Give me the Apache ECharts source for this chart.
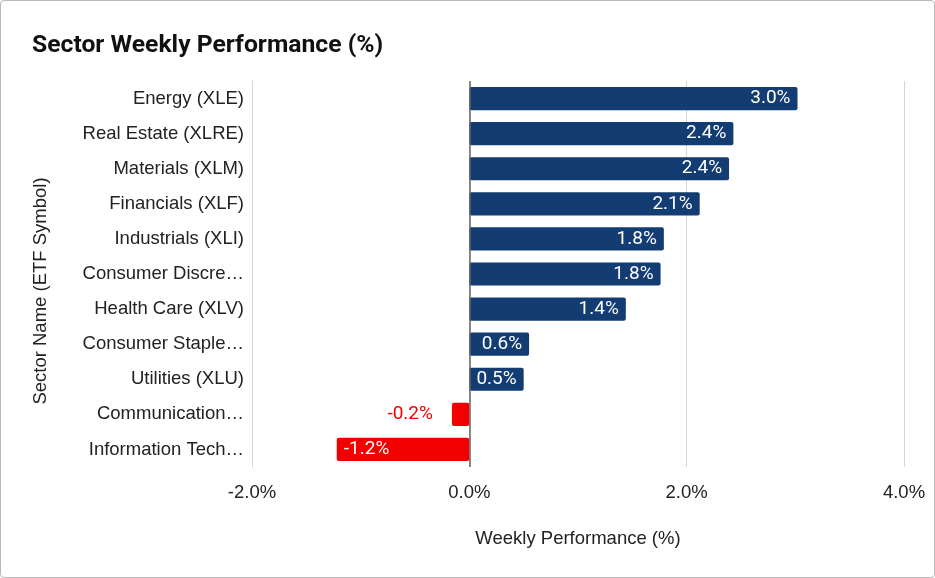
<!DOCTYPE html>
<html><head><meta charset="utf-8">
<script src="https://cdn.jsdelivr.net/npm/echarts@6/dist/echarts.min.js"></script>
<style>
html,body{margin:0;padding:0;background:#fff;}
#c{width:935px;height:578px;box-sizing:border-box;border:1px solid #b8b8b8;border-radius:4px;}
</style></head>
<body><div id="c"></div>
<script>
const categories = ["Energy (XLE)","Real Estate (XLRE)","Materials (XLM)","Financials (XLF)","Industrials (XLI)","Consumer Discretionary (XLY)","Health Care (XLV)","Consumer Staples (XLP)","Utilities (XLU)","Communication Services (XLC)","Information Technology (XLK)"];
const values = [3.02, 2.43, 2.39, 2.12, 1.79, 1.76, 1.44, 0.55, 0.50, -0.16, -1.22];
const xTicks = [-2, 0, 2, 4];

const NAVY = '#123c72', RED = '#f20000';
const AX_FONT = 'Liberation Sans';
const AX_SIZE = 18.5;
const chart = echarts.init(document.getElementById('c'));

function fitLabel(s) {
  const font = AX_SIZE + 'px "' + AX_FONT + '"';
  const ctx = document.createElement('canvas').getContext('2d');
  ctx.font = font;
  const maxW = 163;
  if (ctx.measureText(s).width <= maxW) return s;
  let t = s;
  while (t.length > 0 && ctx.measureText(t + '…').width > maxW) t = t.slice(0, -1);
  return t.replace(/\s+$/, '') + '…';
}

const data = values.map(v => {
  const neg = v < 0;
  const small = Math.abs(v) < 0.3;
  return {
    value: v,
    itemStyle: { color: neg ? RED : NAVY, borderRadius: 2 },
    label: {
      show: true,
      position: small ? (neg ? 'left' : 'right') : (neg ? 'insideLeft' : 'insideRight'),
      color: small ? (neg ? RED : NAVY) : '#fff',
      distance: small ? 19 : 7
    }
  };
});
chart.setOption({
  animation: false,
  title: { text: 'Sector Weekly Performance (%)', left: 26, top: 27,
    textStyle: { fontFamily: 'Roboto', fontSize: 24.7, fontWeight: 'bold', color: '#111' } },
  grid: { left: 251, right: 30, top: 80, bottom: 110 },
  xAxis: {
    type: 'value', min: xTicks[0], max: xTicks[xTicks.length-1], interval: 2,
    name: 'Weekly Performance (%)', nameLocation: 'middle', nameGap: 62,
    nameTextStyle: { fontFamily: AX_FONT, fontSize: AX_SIZE, color: '#222' },
    axisLine: { show: false }, axisTick: { show: false },
    axisLabel: { fontFamily: AX_FONT, fontSize: AX_SIZE, color: '#222', margin: 16,
      formatter: v => v.toFixed(1) + '%' },
    splitLine: { lineStyle: { color: '#d6d6d6', width: 1 } }
  },
  yAxis: {
    type: 'category', data: categories, inverse: true,
    name: 'Sector Name (ETF Symbol)', nameLocation: 'middle', nameGap: 202,
    nameTextStyle: { fontFamily: AX_FONT, fontSize: AX_SIZE, color: '#222', padding: [0, 34, 0, 0] },
    axisLine: { show: true, onZero: false, lineStyle: { color: '#d6d6d6' } },
    axisTick: { show: false },
    axisLabel: { fontFamily: AX_FONT, fontSize: AX_SIZE, color: '#222', margin: 8,
      formatter: fitLabel }
  },
  series: [{
    type: 'bar', data: data, barWidth: '66%',
    label: { fontFamily: 'Roboto', fontSize: 19, formatter: p => p.value.toFixed(1) + '%' },
    markLine: {
      silent: true, symbol: 'none', label: { show: false },
      lineStyle: { color: '#666', width: 1.5, type: 'solid' },
      data: [{ xAxis: 0 }]
    }
  }]
});
</script></body></html>
